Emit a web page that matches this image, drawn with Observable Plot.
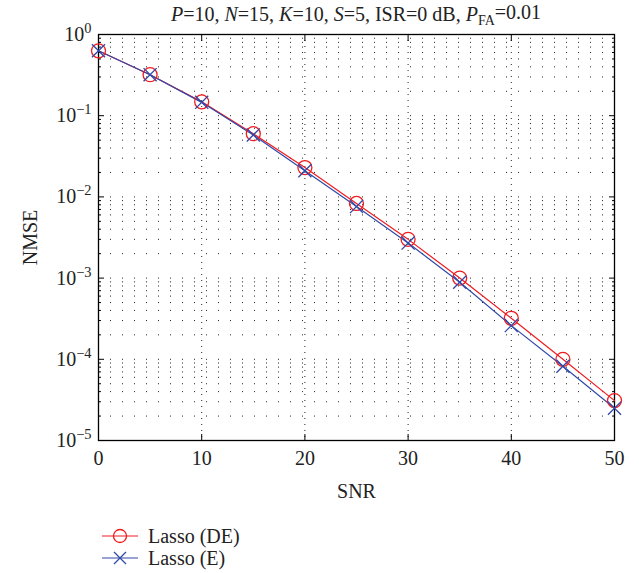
<!DOCTYPE html>
<html>
<head>
<meta charset="utf-8">
<script src="https://cdn.jsdelivr.net/npm/d3@7"></script>
<script src="https://cdn.jsdelivr.net/npm/@observablehq/plot@0.6"></script>
<style>
  html, body { margin: 0; padding: 0; background: #fff; }
  #wrap { position: relative; width: 639px; height: 573px; font-family: "Liberation Serif", serif; color: #222; }
  #legend { position: absolute; left: 100px; top: 525px; font-size: 20px; font-family: "Liberation Serif", serif; }
  .row { display: flex; align-items: center; height: 22px; }
  .row svg { margin-right: 8px; }
</style>
</head>
<body>
<div id="wrap"><div id="chart"></div><div id="legend"></div></div>
<script>
// ---- data ----
const snr = [0, 5, 10, 15, 20, 25, 30, 35, 40, 45, 50];
const lassoDE = [0.63, 0.32, 0.148, 0.060, 0.023, 0.0083, 0.0030, 0.0010, 0.00032, 0.000100, 0.000031];
const lassoE  = [0.63, 0.32, 0.146, 0.058, 0.021, 0.0076, 0.0027, 0.00089, 0.00026, 0.000082, 0.000025];
const seriesNames = ["Lasso (DE)", "Lasso (E)"];
const xTicks = [0, 10, 20, 30, 40, 50];
const xGrid = [10, 20, 30, 40];
const yTicks = [1e-5, 1e-4, 1e-3, 1e-2, 1e-1, 1];
const mantissas = [1, 2, 3, 4, 5, 6, 7, 8, 9];
const decades = [1e-5, 1e-4, 1e-3, 1e-2, 1e-1];
const colors = ["#f01c20", "#3048a8"];

const yGrid = decades.flatMap(d => mantissas.map(m => m * d)).filter(v => v > 1e-5);
const yMinor = decades.flatMap(d => mantissas.slice(1).map(m => m * d));

const rows = [];
snr.forEach((s, i) => rows.push({snr: s, v: lassoDE[i], series: seriesNames[0]}));
snr.forEach((s, i) => rows.push({snr: s, v: lassoE[i], series: seriesNames[1]}));
const de = rows.filter(r => r.series === seriesNames[0]);
const e = rows.filter(r => r.series === seriesNames[1]);

const chart = Plot.plot({
  width: 639,
  height: 512,
  marginLeft: 98,
  marginRight: 25,
  marginTop: 34,
  marginBottom: 72,
  style: {fontFamily: "Liberation Serif, serif", fontSize: "20px", color: "#222", background: "#fff"},
  x: {domain: [0, 50]},
  y: {type: "log", domain: [1e-5, 1]},
  marks: [
    Plot.ruleY(yGrid, {stroke: "#222", strokeWidth: 1, strokeDasharray: "1,11"}),
    Plot.ruleX(xGrid, {stroke: "#222", strokeWidth: 1, strokeDasharray: "1,5"}),
    Plot.axisX({anchor: "bottom", ticks: xTicks, tickSize: -6, tickPadding: 16, tickFormat: d => String(d), label: "SNR", labelAnchor: "center", labelArrow: "none", labelOffset: 57, stroke: "#000"}),
    Plot.axisX({anchor: "top", ticks: xTicks, tickSize: -6, tickFormat: () => "", label: null, stroke: "#000"}),
    Plot.axisY({anchor: "left", ticks: yTicks, tickSize: -6, tickPadding: 13, tickFormat: d => "10^" + Math.round(Math.log10(d)), label: "NMSE", labelAnchor: "center", labelArrow: "none", labelOffset: 76, stroke: "#000"}),
    Plot.axisY({anchor: "left", ticks: yMinor, tickSize: -3, tickFormat: () => "", label: null, stroke: "#000"}),
    Plot.axisY({anchor: "right", ticks: yTicks, tickSize: -6, tickFormat: () => "", label: null, stroke: "#000"}),
    Plot.axisY({anchor: "right", ticks: yMinor, tickSize: -3, tickFormat: () => "", label: null, stroke: "#000"}),
    Plot.frame({stroke: "#000", strokeWidth: 1.3}),
    Plot.line(de, {x: "snr", y: "v", stroke: colors[0], strokeWidth: 1.2}),
    Plot.line(e, {x: "snr", y: "v", stroke: colors[1], strokeWidth: 1.2}),
    Plot.dot(de, {x: "snr", y: "v", r: 7, stroke: colors[0], strokeWidth: 1.3, fill: "none"}),
    Plot.dot(e, {x: "snr", y: "v", r: 6, symbol: "times", stroke: colors[1], strokeWidth: 1.3, fill: "none"})
  ]
});
document.getElementById("chart").appendChild(chart);

// superscript tick labels
const svg = d3.select(chart);
svg.selectAll("text").each(function() {
  const t = this.textContent;
  const m = /^10\^(-?\d+)$/.exec(t);
  if (m) {
    const el = d3.select(this);
    el.text(null);
    el.append("tspan").text("10");
    el.append("tspan").attr("dy", "-0.55em").attr("font-size", "0.72em").text(m[1].replace("-", "\u2212"));
  }
});

// title
const xs = (98 + 639 - 25) / 2;
const title = svg.append("text").attr("x", xs).attr("y", 21).attr("text-anchor", "middle")
  .attr("font-family", "Liberation Serif, serif").attr("font-size", "20px").attr("fill", "#222");
const parts = [["P", true], ["=10, ", false], ["N", true], ["=15, ", false], ["K", true], ["=10, ", false], ["S", true], ["=5, ISR=0 dB, ", false], ["P", true]];
parts.forEach(([s, it]) => title.append("tspan").attr("font-style", it ? "italic" : null).text(s));
title.append("tspan").attr("font-size", "0.7em").attr("dy", "0.3em").text("FA");
title.append("tspan").attr("dy", "-0.3em").text("=0.01");

// legend
const legend = d3.select("#legend");
seriesNames.forEach((name, i) => {
  const row = legend.append("div").attr("class", "row");
  const s = row.append("svg").attr("width", 40).attr("height", 20);
  s.append("line").attr("x1", 2).attr("x2", 38).attr("y1", 10).attr("y2", 10).attr("stroke", colors[i]).attr("stroke-width", 1.2);
  if (i === 0) {
    s.append("circle").attr("cx", 20).attr("cy", 10).attr("r", 6.5).attr("fill", "none").attr("stroke", colors[i]).attr("stroke-width", 1.3);
  } else {
    s.append("path").attr("d", "M14,4L26,16M14,16L26,4").attr("stroke", colors[i]).attr("stroke-width", 1.3);
  }
  row.append("span").text(name);
});
</script>
</body>
</html>
